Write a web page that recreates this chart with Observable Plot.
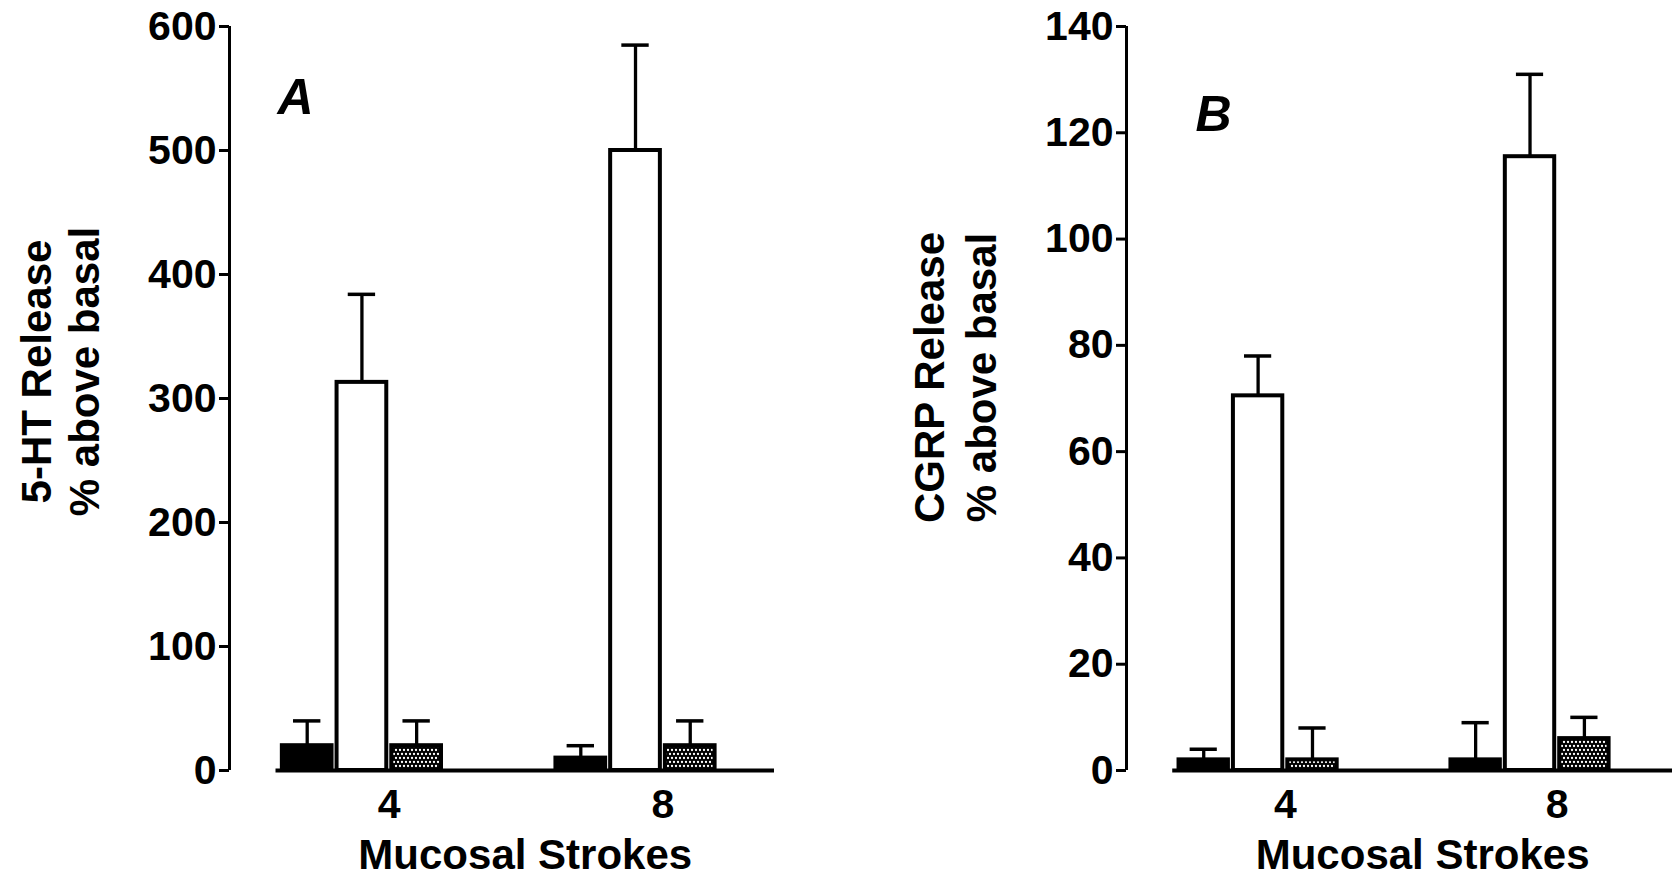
<!DOCTYPE html>
<html>
<head>
<meta charset="utf-8">
<script src="https://cdn.jsdelivr.net/npm/d3@7"></script>
<script src="https://cdn.jsdelivr.net/npm/@observablehq/plot@0.6"></script>
<style>
  html, body { margin: 0; padding: 0; background: #fff; }
  #wrap { position: relative; width: 1680px; height: 882px; overflow: hidden; background: #fff; }
  .panel { position: absolute; top: 0; width: 840px; height: 882px; }
</style>
</head>
<body>
<div id="wrap">
  <div class="panel" id="panelA" style="left:0px"></div>
  <div class="panel" id="panelB" style="left:840px"></div>
</div>
<script>
// ---- data ----
const groups = ["4", "8"];                       // Mucosal strokes
const series = ["Series 1", "Series 2", "Series 3"];
// group-major order: [g4 s1, g4 s2, g4 s3, g8 s1, g8 s2, g8 s3]
const htMean = [20, 313, 20, 10, 500, 20];
const htSem  = [20, 71, 20, 10, 85, 20];
const cgrpMean = [2, 70.5, 2, 2, 115.5, 6];
const cgrpSem  = [2, 7.5, 6, 7, 15.5, 4];
const htTicks = [0, 100, 200, 300, 400, 500, 600];
const cgrpTicks = [0, 20, 40, 60, 80, 100, 120, 140];
const xLabel = "Mucosal Strokes";
const htYLabel = ["5-HT Release", "% above basal"];
const cgrpYLabel = ["CGRP Release", "% above basal"];

const FONT = "'Liberation Sans', Arial, Helvetica, sans-serif";

function buildRows(means, sems) {
  const rows = [];
  groups.forEach((g, gi) => {
    series.forEach((s, si) => {
      const k = gi * series.length + si;
      const slot = gi * 5 + si;           // 4 slots per group + 1 spacer
      rows.push({group: g, series: s, si, x1: slot, x2: slot + 1, cx: slot + 0.5,
                 c1: slot + 0.25, c2: slot + 0.75, mean: means[k], top: means[k] + sems[k]});
    });
  });
  return rows;
}

function panel(opts) {
  const rows = buildRows(opts.means, opts.sems);
  const yMax = opts.ticks[opts.ticks.length - 1];
  const xMin = -0.92, xMax = opts.xMax, xAxisStart = -0.07;
  const patId = "dots" + opts.letter;
  const fills = ["black", "white", `url(#${patId})`];
  const marks = [];
  series.forEach((s, si) => {
    marks.push(Plot.rectY(rows.filter(r => r.si === si), {
      x1: "x1", x2: "x2", y1: () => 0, y2: "mean",
      fill: fills[si], stroke: "black", strokeWidth: 4, insetLeft: 2.5, insetRight: 2.5
    }));
  });
  marks.push(
    Plot.ruleX(rows, {x: "cx", y1: "mean", y2: "top", stroke: "black", strokeWidth: 3.3}),
    Plot.ruleY(rows, {y: "top", x1: "c1", x2: "c2", stroke: "black", strokeWidth: 3.5}),
    Plot.ruleY([0], {x1: () => xAxisStart, x2: () => xMax, stroke: "black", strokeWidth: 4}),
    Plot.ruleX([xMin], {y1: () => 0, y2: () => yMax, stroke: "black", strokeWidth: 3}),
    Plot.axisY({ticks: opts.ticks, tickSize: 10, tickPadding: 3, strokeWidth: 3, label: null,
                fontSize: 41, fontWeight: "bold"}),
    Plot.text(groups, {x: (d, i) => i * 5 + 2, frameAnchor: "bottom", lineAnchor: "bottom",
                       dy: 47, text: d => d, fontSize: 41, fontWeight: "bold"}),
    Plot.text([xLabel], {x: () => (xAxisStart + xMax) / 2, frameAnchor: "bottom", lineAnchor: "bottom",
                         dy: 98, text: d => d, fontSize: 42, fontWeight: "bold"}),
    Plot.text([opts.yLabel[0]], {frameAnchor: "left", rotate: -90, textAnchor: "middle", lineAnchor: "bottom",
                                 dx: opts.yl1, dy: opts.ylCy - 398, text: d => d, fontSize: 42, fontWeight: "bold"}),
    Plot.text([opts.yLabel[1]], {frameAnchor: "left", rotate: -90, textAnchor: "middle", lineAnchor: "bottom",
                                 dx: opts.yl2, dy: opts.ylCy - 398, text: d => d, fontSize: 42, fontWeight: "bold"}),
    Plot.text([opts.letter], {frameAnchor: "top-left", textAnchor: "start", lineAnchor: "bottom",
                              dx: opts.letterDx, dy: opts.letterDy, text: d => d, fontSize: 50,
                              fontWeight: "bold", fontStyle: "italic"})
  );
  const svg = Plot.plot({
    width: 840, height: 882,
    marginLeft: opts.marginLeft, marginRight: opts.marginRight, marginTop: 26, marginBottom: 112,
    x: {domain: [xMin, xMax], axis: null},
    y: {domain: [0, yMax]},
    style: {fontFamily: FONT, fontSize: "40px", fontWeight: "bold", color: "black", background: "white", overflow: "visible"},
    marks
  });
  const defs = d3.select(svg).insert("defs", ":first-child");
  const pat = defs.append("pattern").attr("id", patId).attr("patternUnits", "userSpaceOnUse")
    .attr("width", 4).attr("height", 8);
  pat.append("rect").attr("width", 4).attr("height", 8).attr("fill", "black");
  [[2, 2], [0, 6], [4, 6]].forEach(([cx, cy]) =>
    pat.append("circle").attr("cx", cx).attr("cy", cy).attr("r", 1.15).attr("fill", "white"));
  return svg;
}

document.getElementById("panelA").append(panel({
  means: htMean, sems: htSem, ticks: htTicks, yLabel: htYLabel, letter: "A",
  marginLeft: 229, marginRight: 66, xMax: 9.04,
  yl1: -179, yl2: -131, ylCy: 371, letterDx: 48, letterDy: 87
}));
document.getElementById("panelB").append(panel({
  means: cgrpMean, sems: cgrpSem, ticks: cgrpTicks, yLabel: cgrpYLabel, letter: "B",
  marginLeft: 286, marginRight: 8, xMax: 9.12,
  yl1: -183, yl2: -131, ylCy: 377, letterDx: 69, letterDy: 104
}));
</script>
</body>
</html>
